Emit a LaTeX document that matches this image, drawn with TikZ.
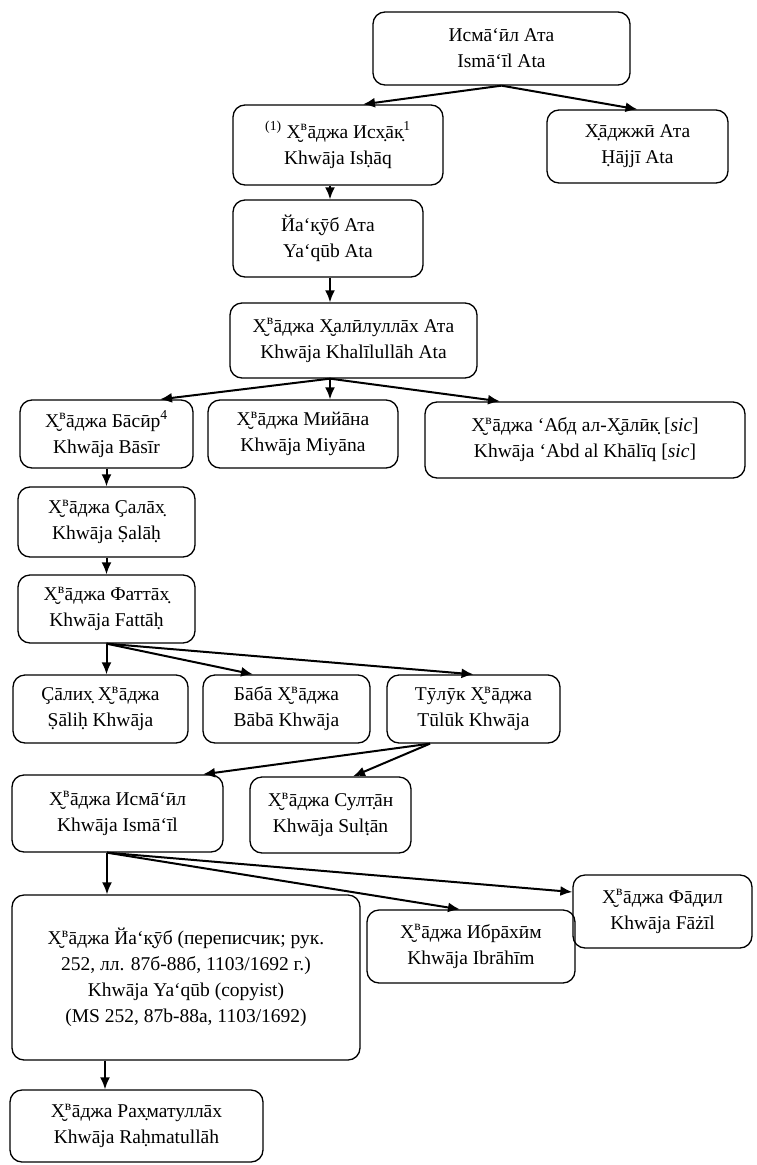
\documentclass[tikz,border=0pt]{standalone}
\usepackage{fontspec}
\setmainfont{Liberation Serif}
\usetikzlibrary{arrows.meta}
\newcommand{\Xv}{Х̮\textsuperscript{в}}
\newcommand{\bx}[6]{\node[box, minimum width={(#4-#2)*1pt}, minimum height={(#5-#3)*1pt}] (#1) at ({(#2+#4)/2*1pt},{-(#3+#5)/2*1pt}) {#6};}
\tikzset{
  box/.style={draw, line width=1.3pt, rounded corners=12pt, inner sep=0pt, align=center,
    font=\fontsize{19.5}{26}\selectfont},
  arr/.style={line width=2pt, -{Latex[length=12pt,width=10pt]}}
}
\begin{document}
\begin{tikzpicture}
\useasboundingbox (0,0) rectangle (757pt,-1165pt);
\bx{a}{373}{12}{630}{85}{Исмā‘ӣл Ата\\ Ismā‘īl Ata}
\bx{b}{233}{105}{443}{185}{\textsuperscript{(1)} \Xv āджа Исх̣āк̣\textsuperscript{1}\\ Khwāja Isḥāq}
\bx{c}{547}{110}{728}{183}{Х̣āджжӣ Ата\\ Ḥājjī Ata}
\bx{d}{233}{200}{423}{277}{Йа‘к̣ӯб Ата\\ Ya‘qūb Ata}
\bx{e}{230}{303}{477}{378}{\Xv āджа Х̮алӣлуллāх Ата\\ Khwāja Khalīlullāh Ata}
\bx{f}{20}{400}{193}{468}{\Xv āджа Бāсӣр\textsuperscript{4}\\ Khwāja Bāsīr}
\bx{g}{208}{400}{398}{468}{\Xv āджа Мийāна\\ Khwāja Miyāna}
\bx{h}{425}{402}{745}{478}{\Xv āджа ‘Абд ал-Х̮āлӣк̣ [\textit{sic}]\\ Khwāja ‘Abd al Khālīq [\textit{sic}]}
\bx{i}{18}{487}{195}{557}{\Xv āджа Ҫалāх̣\\ Khwāja Ṣalāḥ}
\bx{j}{18}{575}{195}{643}{\Xv āджа Фаттāх̣\\ Khwāja Fattāḥ}
\bx{k}{13}{675}{188}{743}{Ҫāлих̣ \Xv āджа\\ Ṣāliḥ Khwāja}
\bx{l}{203}{675}{370}{743}{Бāбā \Xv āджа\\ Bābā Khwāja}
\bx{m}{387}{675}{560}{743}{Тӯлӯк \Xv āджа\\ Tūlūk Khwāja}
\bx{n}{12}{775}{223}{852}{\Xv āджа Исмā‘ӣл\\ Khwāja Ismā‘īl}
\bx{o}{250}{777}{411}{853}{\Xv āджа Султ̣āн\\ Khwāja Sulṭān}
\bx{p}{573}{875}{752}{948}{\Xv āджа Фāд̣ил\\ Khwāja Fāżīl}
\bx{q}{367}{910}{575}{983}{\Xv āджа Ибрāхӣм\\ Khwāja Ibrāhīm}
\bx{r}{12}{895}{360}{1060}{\Xv āджа Йа‘к̣ӯб (переписчик; рук.\\ 252, лл. 87б-88б, 1103/1692 г.)\\ Khwāja Ya‘qūb (copyist)\\ (MS 252, 87b-88a, 1103/1692)}
\bx{s}{10}{1090}{263}{1162}{\Xv āджа Рах̣матуллāх\\ Khwāja Raḥmatullāh}
% connectors
\draw[arr] (a.south) -- ([xshift=25pt]b.north);
\draw[arr] (a.south) -- (c.north);
\draw[arr] ([xshift=-8pt]b.south) -- ([xshift=2pt]d.north);
\draw[arr] ([xshift=2pt]d.south) -- ([xshift=-23.5pt]e.north);
\coordinate (e0) at ([xshift=-23.5pt]e.south);
\draw[arr] (e0) -- ([xshift=53.5pt]f.north);
\draw[arr] (e0) -- ([xshift=27pt]g.north);
\draw[arr] (e0) -- ([xshift=-85pt]h.north);
\draw[arr] (f.south) -- (i.north);
\draw[arr] (i.south) -- (j.north);
\draw[arr] (j.south) -- ([xshift=6pt]k.north);
\draw[arr] (j.south) -- ([xshift=-33.5pt]l.north);
\draw[arr] (j.south) -- (m.north);
\coordinate (m0) at ([xshift=-43.5pt]m.south);
\draw[arr] (m0) -- ([xshift=85.5pt]n.north);
\draw[arr] (m0) -- ([xshift=22.5pt]o.north);
\coordinate (n0) at ([xshift=-10.5pt]n.south);
\draw[arr] (n0) -- ([xshift=-79pt]r.north);
\draw[arr] (n0) -- ([xshift=-11pt]q.north);
\draw[arr] (n0) -- ([yshift=19.5pt]p.west);
\draw[arr] ([xshift=-81pt]r.south) -- ([xshift=-31.5pt]s.north);
\end{tikzpicture}
\end{document}
